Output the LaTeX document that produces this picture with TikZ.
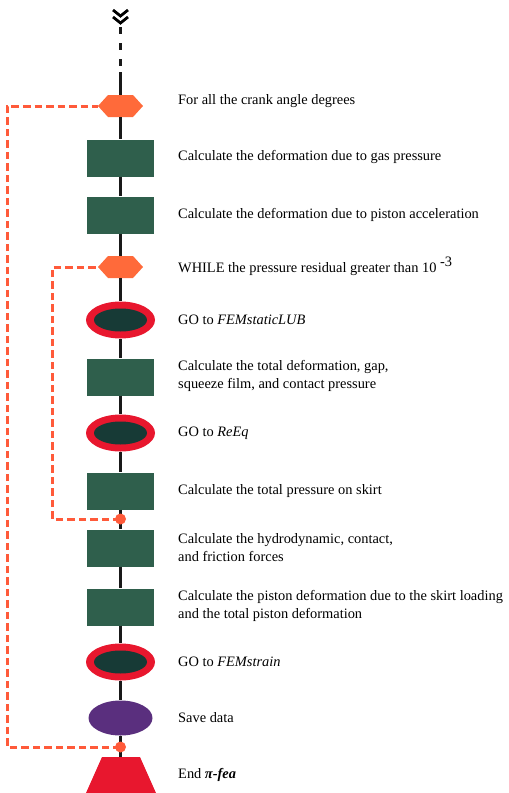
\documentclass[tikz,border=0pt]{standalone}
\usepackage{fontspec}
\setmainfont{Liberation Serif}
\usetikzlibrary{shapes.geometric}
\definecolor{boxgreen}{HTML}{2F5F4C}
\definecolor{hexorange}{HTML}{FF6A3A}
\definecolor{ringred}{HTML}{E8172E}
\definecolor{coredark}{HTML}{173A36}
\definecolor{savepurple}{HTML}{5A2F7E}
\definecolor{loopdash}{HTML}{FF5A3A}
\tikzset{
  x=1pt, y=-1pt,
  spine/.style={line width=2.8pt, black!90},
  stepbox/.style={rectangle, fill=boxgreen, minimum width=67pt, minimum height=37pt, inner sep=0pt},
  callring/.style={ellipse, fill=ringred, minimum width=69pt, minimum height=37pt, inner sep=0pt},
  callcore/.style={ellipse, fill=coredark, minimum width=53pt, minimum height=23pt, inner sep=0pt},
  savedisc/.style={ellipse, fill=savepurple, minimum width=64pt, minimum height=35pt, inner sep=0pt},
  junction/.style={circle, fill=loopdash, minimum size=11pt, inner sep=0pt},
  hexslot/.style={minimum width=45pt, minimum height=22pt, inner sep=0pt},
  label/.style={anchor=west, font=\fontsize{14.4}{18}\selectfont, align=left, inner sep=0pt},
  loopline/.style={loopdash, line width=3pt, dash pattern=on 7.5pt off 4pt},
}
\begin{document}
\begin{tikzpicture}
\useasboundingbox (0,0) rectangle (509,793);

% incoming flow: double chevron and dashed lead-in
\coordinate (top) at (120.5,27);
\coordinate (entry) at (120.5,72);
\draw[line width=2.8pt, black] (113,10) -- (120.5,16) -- (128,10);
\draw[line width=2.8pt, black] (113,17) -- (120.5,23) -- (128,17);
\draw[spine, dash pattern=on 7pt off 9pt] (top) -- (entry);

% hexagonal loop headers
\path[fill=hexorange] (98,106) -- (108,95) -- (133,95) -- (143,106) -- (133,117) -- (108,117) -- cycle;
\node[hexslot] (hexA) at (120.5,106) {};
\path[fill=hexorange] (98,267) -- (108,256) -- (133,256) -- (143,267) -- (133,278) -- (108,278) -- cycle;
\node[hexslot] (hexB) at (120.5,267) {};

% process steps
\node[stepbox] (gas)   at (120.5,158) {};
\node[stepbox] (acc)   at (120.5,215) {};
\node[callring] (lub)  at (120.5,320) {};
\node[callcore] at (lub) {};
\node[stepbox] (gap)   at (120.5,377) {};
\node[callring] (reeq) at (120.5,433) {};
\node[callcore] at (reeq) {};
\node[stepbox] (skirt) at (120.5,491) {};
\coordinate (jB) at (120.5,519);
\node[stepbox] (force) at (120.5,548) {};
\node[stepbox] (defo)  at (120.5,607) {};
\node[callring] (strn) at (120.5,662) {};
\node[callcore] at (strn) {};
\node[savedisc] (save) at (120.5,718) {};
\coordinate (jA) at (120.5,747);
\path[fill=ringred] (102,757) -- (140,757) -- (156,793) -- (86,793) -- cycle;
\node[minimum width=54pt, minimum height=36pt, inner sep=0pt] (endnode) at (120.5,775) {};

% spine connectors
\draw[spine] (entry) -- (hexA.north);
\draw[spine] (hexA.south) -- (gas.north);
\draw[spine] (gas.south) -- (acc.north);
\draw[spine] (acc.south) -- (hexB.north);
\draw[spine] (hexB.south) -- (lub.north);
\draw[spine] (lub.south) -- (gap.north);
\draw[spine] (gap.south) -- (reeq.north);
\draw[spine] (reeq.south) -- (skirt.north);
\draw[spine] (skirt.south) -- (force.north);
\draw[spine] (force.south) -- (defo.north);
\draw[spine] (defo.south) -- (strn.north);
\draw[spine] (strn.south) -- (save.north);
\draw[spine] (save.south) -- (endnode.north);

% loop-back returns and their junction dots
\draw[loopline] (jB) -- (52,519) -- (52,267) -- (hexB.west);
\draw[loopline] (jA) -- (7,747) -- (7,106) -- (hexA.west);
\node[junction] (dotB) at (jB) {};
\node[junction] (dotA) at (jA) {};

% step descriptions
\node[label] (tA)  at (178,101) {For all the crank angle degrees};
\node[label] (t1)  at (178,157) {Calculate the deformation due to gas pressure};
\node[label] (t2)  at (178,215) {Calculate the deformation due to piston acceleration};
\node[label] (tB)  at (178,266) {WHILE the pressure residual greater than 10 \raisebox{6pt}{\fontsize{14.4}{14}\selectfont -3}};
\node[label] (t3)  at (178,320) {GO to \textit{FEMstaticLUB}};
\node[label] (t4)  at (178,376) {Calculate the total deformation, gap,\\squeeze film, and contact pressure};
\node[label] (t5)  at (178,433) {GO to \textit{ReEq}};
\node[label] (t6)  at (178,491) {Calculate the total pressure on skirt};
\node[label] (t7)  at (178,548) {Calculate the hydrodynamic, contact,\\and friction forces};
\node[label] (t8)  at (178,606) {Calculate the piston deformation due to the skirt loading\\and the total piston deformation};
\node[label] (t9)  at (178,662) {GO to \textit{FEMstrain}};
\node[label] (t10) at (178,718) {Save data};
\node[label] (t11) at (178,775) {End \textbf{\textit{π-fea}}};
\end{tikzpicture}
\end{document}
